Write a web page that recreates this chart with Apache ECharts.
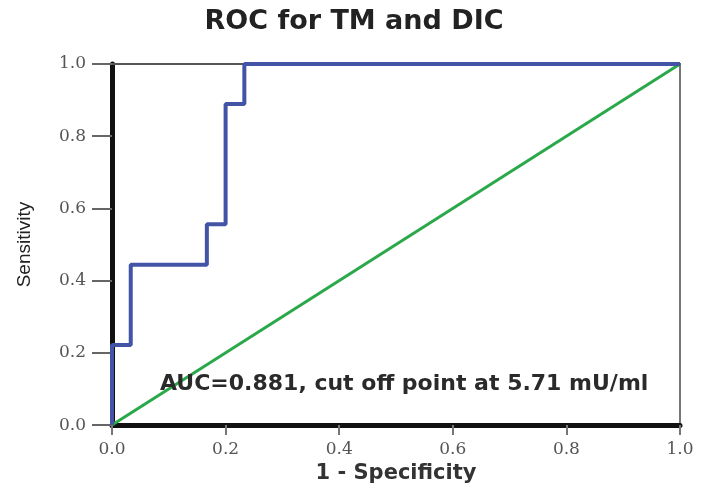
<!DOCTYPE html>
<html>
<head>
<meta charset="utf-8">
<script src="https://cdn.jsdelivr.net/npm/echarts@6/dist/echarts.min.js"></script>
<style>
  html, body { margin: 0; padding: 0; background: #fff; }
  #chart { width: 708px; height: 489px; }
</style>
</head>
<body>
<div id="chart"></div>
<script>
// ROC curve points (1 - specificity, sensitivity) for thrombomodulin
const rocFpr = [0, 0, 0.033, 0.167, 0.2, 0.233, 1];
const rocTpr = [0, 0.222, 0.444, 0.556, 0.889, 1, 1];

// Chance (reference) line
const refFpr = [0, 1];
const refTpr = [0, 1];

const tickValues = [0, 0.2, 0.4, 0.6, 0.8, 1.0];
const titleText = 'ROC for TM and DIC';
const noteText = 'AUC=0.881, cut off point at 5.71 mU/ml';

const pairs = (xs, ys) => xs.map((x, i) => [x, ys[i]]);
const fmt = v => v.toFixed(1);

const chart = echarts.init(document.getElementById('chart'));

const tickLabel = {
  fontFamily: 'DejaVu Serif',
  fontSize: 17,
  color: '#555',
  formatter: fmt
};

chart.setOption({
  animation: false,
  backgroundColor: '#fff',
  title: {
    text: titleText,
    left: 'center',
    top: 3,
    textStyle: { fontFamily: 'DejaVu Sans', fontWeight: 'bold', fontSize: 27, color: '#222' }
  },
  grid: { left: 112, right: 28, top: 64, bottom: 55 },
  xAxis: [
    {
      type: 'value', min: 0, max: 1, interval: 0.2,
      name: '1 - Specificity', nameLocation: 'middle', nameGap: 33,
      nameTextStyle: { fontFamily: 'DejaVu Sans', fontWeight: 'bold', fontSize: 21, color: '#333' },
      axisLine: { show: true, lineStyle: { color: '#111', width: 5 } },
      axisTick: { show: true, length: 10, lineStyle: { color: '#777', width: 2 } },
      axisLabel: Object.assign({ margin: 16 }, tickLabel),
      splitLine: { show: false }
    },
    {
      type: 'value', min: 0, max: 1, position: 'top',
      axisLine: { show: true, onZero: false, lineStyle: { color: '#555', width: 2 } },
      axisTick: { show: false }, axisLabel: { show: false }, splitLine: { show: false }
    }
  ],
  yAxis: [
    {
      type: 'value', min: 0, max: 1, interval: 0.2,
      name: 'Sensitivity', nameLocation: 'middle', nameGap: 78, nameRotate: 90,
      nameTextStyle: { fontFamily: 'Liberation Sans', fontSize: 19, color: '#222' },
      axisLine: { show: true, lineStyle: { color: '#111', width: 5 } },
      axisTick: { show: true, length: 20, lineStyle: { color: '#666', width: 2 } },
      axisLabel: Object.assign({ margin: 26 }, tickLabel),
      splitLine: { show: false }
    },
    {
      type: 'value', min: 0, max: 1, position: 'right',
      axisLine: { show: true, onZero: false, lineStyle: { color: '#777', width: 2 } },
      axisTick: { show: false }, axisLabel: { show: false }, splitLine: { show: false }
    }
  ],
  graphic: [
    {
      type: 'text',
      left: 160,
      top: 373,
      style: {
        text: noteText,
        fontFamily: 'DejaVu Sans',
        fontWeight: 'bold',
        fontSize: 22,
        fill: '#2a2a2a'
      },
      z: 10
    }
  ],
  series: [
    {
      name: 'Reference',
      type: 'line',
      data: pairs(refFpr, refTpr),
      showSymbol: false,
      lineStyle: { color: '#2aa84a', width: 3 },
      z: 3
    },
    {
      name: 'TM',
      type: 'line',
      step: 'end',
      data: pairs(rocFpr, rocTpr),
      showSymbol: false,
      lineStyle: { color: '#4353a6', width: 4 },
      z: 4
    }
  ]
});
</script>
</body>
</html>
